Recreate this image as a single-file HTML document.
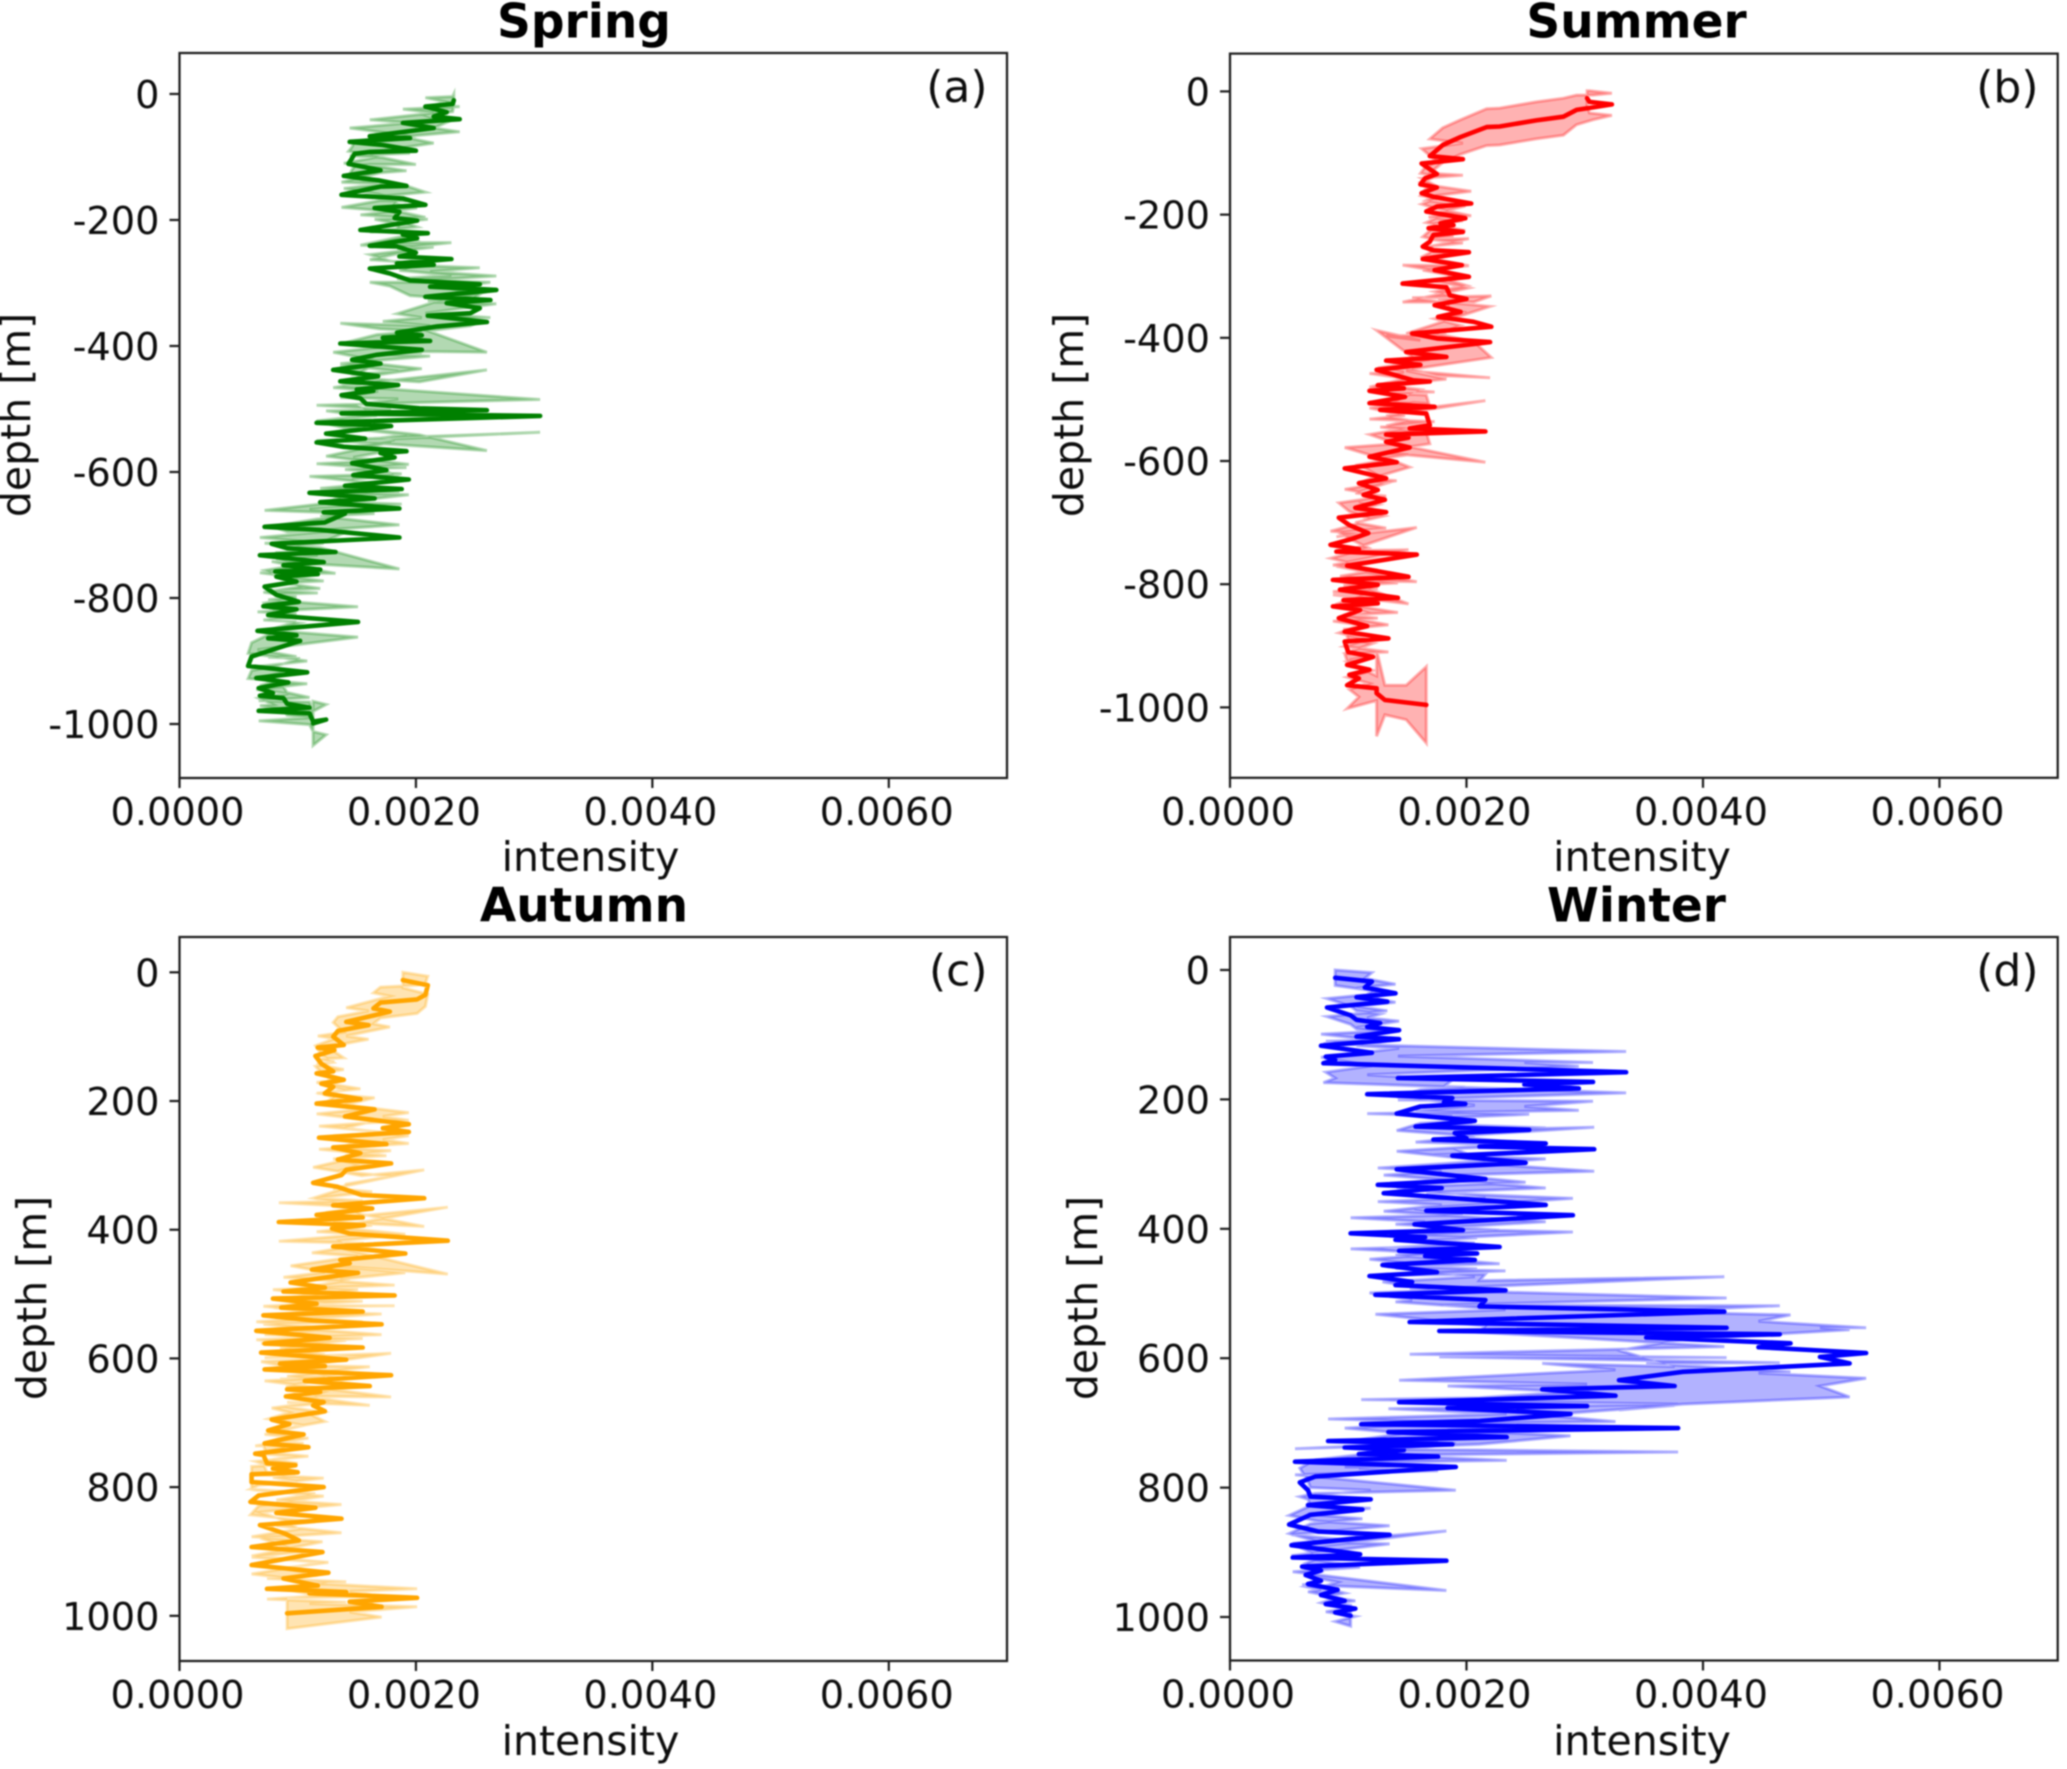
<!DOCTYPE html>
<html lang="en">
<head>
<meta charset="utf-8">
<title>Seasonal intensity profiles</title>
<style>
html,body{margin:0;padding:0;background:#fff;}
svg{display:block;}
text{font-family:"DejaVu Sans","Liberation Sans",sans-serif;fill:#111;}
.tick{font-size:38.3px;}
.lab{font-size:41px;}
.letter{font-size:44px;}
.ttl{font-size:47px;font-weight:bold;fill:#000;}
</style>
</head>
<body>
<svg id="fig" xmlns="http://www.w3.org/2000/svg" width="2067" height="1769" viewBox="0 0 2067 1769">
<defs><filter id="soft" filterUnits="userSpaceOnUse" x="0" y="0" width="2067" height="1769"><feGaussianBlur stdDeviation="0.8"/></filter></defs>
<rect x="0" y="0" width="2067" height="1769" fill="#fff"/>
<g filter="url(#soft)">
<g id="panel-a">
<text class="ttl" x="584" y="37.7" text-anchor="middle">Spring</text>
<text class="letter" x="987.5" y="102" text-anchor="end">(a)</text>
<text class="lab" x="590.5" y="871" text-anchor="middle">intensity</text>
<text class="lab" transform="translate(30,415) rotate(-90)" text-anchor="middle">depth [m]</text>
</g>
<g id="panel-b">
<text class="ttl" x="1636.5" y="37.7" text-anchor="middle">Summer</text>
<text class="letter" x="2038.5" y="102" text-anchor="end">(b)</text>
<text class="lab" x="1642" y="871" text-anchor="middle">intensity</text>
<text class="lab" transform="translate(1083,415) rotate(-90)" text-anchor="middle">depth [m]</text>
</g>
<g id="panel-c">
<text class="ttl" x="584" y="921.7" text-anchor="middle">Autumn</text>
<text class="letter" x="987.5" y="985.5" text-anchor="end">(c)</text>
<text class="lab" x="590.5" y="1755" text-anchor="middle">intensity</text>
<text class="lab" transform="translate(46,1298) rotate(-90)" text-anchor="middle">depth [m]</text>
</g>
<g id="panel-d">
<text class="ttl" x="1636.5" y="921.7" text-anchor="middle">Winter</text>
<text class="letter" x="2038.5" y="985.5" text-anchor="end">(d)</text>
<text class="lab" x="1642" y="1755" text-anchor="middle">intensity</text>
<text class="lab" transform="translate(1097,1298) rotate(-90)" text-anchor="middle">depth [m]</text>
</g>
</g>
</svg>
<script>
// Intensity values are in units of 1e-5; depth and spread in metres.
const intensityUnit = 1e-5;
const xTickValues = [0, 0.002, 0.004, 0.006];
const xTickLabels = ['0.0000', '0.0020', '0.0040', '0.0060'];
const negativeDepthTicks = [0, -200, -400, -600, -800, -1000];
const positiveDepthTicks = [0, 200, 400, 600, 800, 1000];

const springDepth = [10,16,20,29,36,40,46,54,67,70,
76,81,90,92,95,102,111,121,130,137,
146,147,160,166,176,181,187,197,201,216,
221,223,229,241,242,252,258,262,269,271,
277,285,296,302,306,311,322,327,332,340,
348,352,362,369,379,383,387,392,396,401,
406,414,422,428,438,448,456,462,469,471,
478,483,492,499,502,507,511,522,527,539,
547,553,560,567,570,577,586,597,605,612,
622,627,633,642,648,658,664,666,680,687,
692,704,714,721,727,732,743,748,755,758,
762,766,774,782,795,806,813,818,827,838,
852,859,864,868,880,893,908,918,927,934,
943,951,955,959,968,974,979,983,996,993,999];
const springIntensity = [232,231,208,226,215,237,189,215,161,195,
144,172,200,161,148,146,143,170,139,168,
192,170,137,189,208,165,186,182,201,153,
210,189,201,161,184,200,186,230,184,215,
161,178,195,254,212,268,208,263,226,254,
246,210,260,218,184,205,172,212,136,170,
205,167,146,170,130,168,136,185,150,164,
137,153,158,203,260,137,305,116,179,124,
157,116,139,192,170,182,146,175,147,194,
140,188,110,165,119,186,122,140,123,72,
119,186,78,91,132,68,122,88,119,81,
117,82,99,72,82,101,71,99,75,151,
66,99,75,102,82,61,58,108,65,92,
67,79,68,88,91,110,67,110,113,124,113];
const springSpread = [10,12,14,16,18,20,22,24,26,24,
22,20,22,20,20,18,20,22,20,22,
24,22,20,22,20,18,20,22,20,24,
22,20,18,22,24,20,22,26,24,28,
22,20,24,26,24,22,26,28,24,22,
20,24,48,40,30,28,26,24,32,28,
30,32,30,26,28,24,26,22,24,40,
38,36,40,42,64,44,26,28,26,36,
36,34,30,26,24,28,26,30,28,24,
26,24,26,24,22,26,28,30,30,26,
28,50,28,26,34,28,30,28,30,30,
30,28,26,26,30,24,22,20,24,24,
30,34,30,28,28,22,20,18,18,18,
16,18,16,18,18,16,16,18,16,24,35];

const summerDepth = [11,17,21,26,30,41,47,57,58,74,
87,105,110,117,134,141,151,156,165,171,
182,187,195,206,214,217,222,228,233,244,
252,258,261,272,282,290,301,312,318,331,
337,347,358,366,374,382,393,401,407,423,
431,437,444,452,469,471,477,482,486,496,
506,512,517,523,542,547,552,557,562,569,
578,593,602,612,628,636,647,655,663,676,
683,692,704,717,726,736,743,747,752,770,
788,793,801,809,822,826,831,836,842,855,
868,877,888,893,910,918,931,939,947,953,
964,969,977,988,992,996];
const summerIntensity = [302,304,323,307,293,282,259,228,217,195,
180,169,197,162,175,165,161,175,162,172,
204,175,166,199,178,189,168,197,172,169,
163,172,202,163,196,173,202,146,183,186,
200,173,195,176,206,221,154,175,220,149,
183,132,161,124,155,169,125,147,118,148,
118,173,127,166,169,152,216,132,151,132,
152,118,141,97,132,109,125,113,131,106,
132,92,101,117,104,85,109,90,158,99,
151,87,125,93,142,96,125,87,110,92,
116,97,134,97,100,121,99,118,101,109,
99,124,124,131,149,166];
const summerSpread = [12,18,18,20,24,30,30,30,30,28,
28,28,26,24,20,18,18,18,18,18,
20,18,18,20,18,18,18,18,18,18,
16,18,22,18,20,18,18,30,24,24,
22,22,22,28,32,50,58,60,58,30,
36,40,40,64,36,36,28,26,28,30,
26,24,28,30,30,30,50,30,28,26,
32,36,30,34,30,30,24,22,26,24,
26,24,22,24,22,22,26,24,44,24,
44,24,24,22,24,24,24,24,24,24,
22,24,22,20,20,22,20,22,24,30,
38,20,70,24,28,62];

const autumnDepth = [12,20,35,42,47,56,61,77,82,91,
100,113,117,121,130,142,154,157,167,173,
178,188,197,204,213,224,236,242,248,257,
267,272,281,291,297,307,315,327,333,346,
351,362,367,377,381,388,393,398,406,417,
426,437,447,452,462,467,482,490,496,502,
507,515,521,527,533,541,547,557,568,577,
583,591,602,608,612,617,626,635,643,648,
652,659,668,673,682,695,702,712,718,732,
738,748,750,763,766,771,777,780,792,800,
813,823,832,840,849,859,872,883,893,901,
921,933,942,953,958,963,965,972,978,986,
996];
const autumnIntensity = [189,210,208,201,170,164,178,141,160,134,
130,139,117,131,115,120,130,116,139,120,
130,123,153,116,165,140,194,172,194,118,
175,130,153,134,179,141,137,113,133,154,
207,130,163,116,155,84,156,129,144,227,
130,191,136,144,112,151,94,123,88,182,
79,116,86,155,71,113,171,65,127,72,
155,69,141,85,123,72,179,106,161,91,
119,90,122,113,123,78,93,75,105,72,
109,64,71,74,98,79,100,61,61,122,
67,60,115,82,137,68,89,101,61,121,
61,126,88,117,74,141,110,201,144,171,
91];
const autumnSpread = [12,14,18,22,24,24,24,22,22,22,
22,20,18,18,16,14,14,14,16,16,
16,16,16,16,18,18,18,18,18,18,
18,18,18,18,20,22,22,24,24,30,
44,26,26,26,26,30,28,26,26,52,
30,30,30,26,26,26,26,24,22,16,
14,14,14,16,14,14,16,14,14,14,
14,14,30,24,18,18,34,24,30,20,
18,16,16,16,16,18,18,18,14,14,
14,12,14,14,14,14,14,12,12,14,
16,20,22,20,22,20,20,18,16,16,
14,16,16,16,16,16,16,14,16,16,
24];

const winterDepth = [12,18,27,36,42,49,58,70,77,82,
88,93,103,107,117,128,134,139,144,158,
167,173,177,183,192,198,204,207,211,222,
233,242,247,252,260,262,268,273,277,287,
298,308,323,332,337,345,363,372,379,393,
402,407,413,417,428,434,438,442,448,456,
467,473,482,487,495,502,510,520,528,544,
553,558,563,568,577,583,592,598,608,621,
634,643,648,658,668,674,677,686,697,702,
708,714,722,728,733,738,742,748,752,760,
768,783,792,804,814,818,827,834,842,857,
868,873,889,903,908,913,922,928,935,944,
949,958,966,975,980,987,993,998];
const winterIntensity = [89,120,114,140,107,133,82,102,107,127,
116,143,107,143,77,120,81,89,79,335,
142,307,249,295,116,188,181,199,161,141,
207,157,253,190,200,172,267,211,308,188,
250,141,216,125,179,130,267,166,290,156,
197,102,165,140,228,143,209,165,207,129,
175,118,154,140,233,123,216,211,418,152,
420,177,465,352,474,447,538,499,524,383,
329,376,264,326,143,302,184,288,211,111,
379,134,234,83,188,97,147,109,176,55,
191,72,59,66,68,119,66,112,68,50,
75,135,52,110,53,183,61,77,64,77,
66,91,77,97,81,106,89,102];
const winterSpread = [12,14,14,14,14,14,14,14,14,14,
14,14,14,14,18,20,24,28,30,32,
34,30,34,34,30,28,24,26,26,26,
24,24,24,24,24,24,24,26,34,30,
30,28,28,26,26,28,26,28,26,24,
24,24,24,24,26,24,24,24,26,26,
28,26,28,26,30,30,40,40,54,50,
46,40,44,40,44,40,39,45,52,50,
46,30,40,40,34,34,34,34,36,38,
37,36,36,34,34,30,26,22,22,20,
36,26,22,14,14,14,14,14,14,14,
16,14,16,20,22,46,28,20,18,14,
12,12,12,12,12,12,14,16];

const NS = 'http://www.w3.org/2000/svg';
const xDomain = [0, 0.007];

function drawPanel(groupId, season, color, box, yDomain, depthSign, yTicks, depth, intensity, spread) {
  const g = document.getElementById(groupId);
  const xScale = v => box.left + (v - xDomain[0]) / (xDomain[1] - xDomain[0]) * (box.right - box.left);
  const yScale = d => box.top + (d - yDomain[0]) / (yDomain[1] - yDomain[0]) * (box.bottom - box.top);
  const px = i => xScale(intensity[i] * intensityUnit).toFixed(1);
  const n = Math.min(depth.length, intensity.length);

  let upper = [], lower = [];
  for (let i = 0; i < n; i++) {
    const e = spread[i] === undefined ? 20 : spread[i];
    const d = depthSign * depth[i];
    upper.push(px(i) + ' ' + yScale(d + e).toFixed(1));
    lower.unshift(px(i) + ' ' + yScale(d - e).toFixed(1));
  }
  const band = document.createElementNS(NS, 'path');
  
  
  band.setAttribute('d', 'M' + upper.concat(lower).join('L') + 'Z');
  band.setAttribute('fill', color);
  band.setAttribute('fill-opacity', '0.3');
  band.setAttribute('stroke', color);
  band.setAttribute('stroke-opacity', '0.3');
  band.setAttribute('stroke-width', '3');
  band.setAttribute('stroke-linejoin', 'miter');
  band.setAttribute('stroke-miterlimit', '5');
  g.appendChild(band);

  let pts = [];
  for (let i = 0; i < n; i++) {
    pts.push(px(i) + ',' + yScale(depthSign * depth[i]).toFixed(1));
  }
  const line = document.createElementNS(NS, 'polyline');
  
  
  line.setAttribute('points', pts.join(' '));
  line.setAttribute('fill', 'none');
  line.setAttribute('stroke', color);
  line.setAttribute('stroke-width', '4.6');
  line.setAttribute('stroke-linejoin', 'round');
  line.setAttribute('stroke-linecap', 'round');
  g.appendChild(line);

  const frame = document.createElementNS(NS, 'rect');
  
  
  frame.setAttribute('x', box.left);
  frame.setAttribute('y', box.top);
  frame.setAttribute('width', box.right - box.left);
  frame.setAttribute('height', box.bottom - box.top);
  frame.setAttribute('fill', 'none');
  frame.setAttribute('stroke', '#1a1a1a');
  frame.setAttribute('stroke-width', '2.2');
  g.appendChild(frame);

  xTickValues.forEach((v, i) => {
    const x = xScale(v);
    const tick = document.createElementNS(NS, 'line');
    
    
    tick.setAttribute('x1', x);
    tick.setAttribute('x2', x);
    tick.setAttribute('y1', box.bottom);
    tick.setAttribute('y2', box.bottom + 10);
    tick.setAttribute('stroke', '#1a1a1a');
    tick.setAttribute('stroke-width', '2.2');
    g.appendChild(tick);
    const label = document.createElementNS(NS, 'text');
    
    
    label.setAttribute('class', 'tick');
    label.setAttribute('x', x - 2);
    label.setAttribute('y', box.bottom + 47);
    label.setAttribute('text-anchor', 'middle');
    label.textContent = xTickLabels[i];
    g.appendChild(label);
  });

  yTicks.forEach(d => {
    const y = yScale(d);
    const tick = document.createElementNS(NS, 'line');
    
    
    tick.setAttribute('x1', box.left - 10);
    tick.setAttribute('x2', box.left);
    tick.setAttribute('y1', y);
    tick.setAttribute('y2', y);
    tick.setAttribute('stroke', '#1a1a1a');
    tick.setAttribute('stroke-width', '2.2');
    g.appendChild(tick);
    const label = document.createElementNS(NS, 'text');
    
    
    label.setAttribute('class', 'tick');
    label.setAttribute('x', box.left - 20);
    label.setAttribute('y', y + 14);
    label.setAttribute('text-anchor', 'end');
    label.textContent = String(d);
    g.appendChild(label);
  });
}

drawPanel('panel-a', 'spring', '#008000', {left:179.5, right:1007, top:53, bottom:778}, [65, -1085.7], -1, negativeDepthTicks, springDepth, springIntensity, springSpread);
drawPanel('panel-b', 'summer', '#ff0000', {left:1230, right:2057.7, top:53.6, bottom:777.8}, [61.4, -1114.3], -1, negativeDepthTicks, summerDepth, summerIntensity, summerSpread);
drawPanel('panel-c', 'autumn', '#ffa500', {left:179.5, right:1007, top:937, bottom:1661}, [-54.9, 1070.2], 1, positiveDepthTicks, autumnDepth, autumnIntensity, autumnSpread);
drawPanel('panel-d', 'winter', '#0000ff', {left:1230, right:2057.7, top:937, bottom:1660.5}, [-51, 1067.2], 1, positiveDepthTicks, winterDepth, winterIntensity, winterSpread);
</script>
</body>
</html>
